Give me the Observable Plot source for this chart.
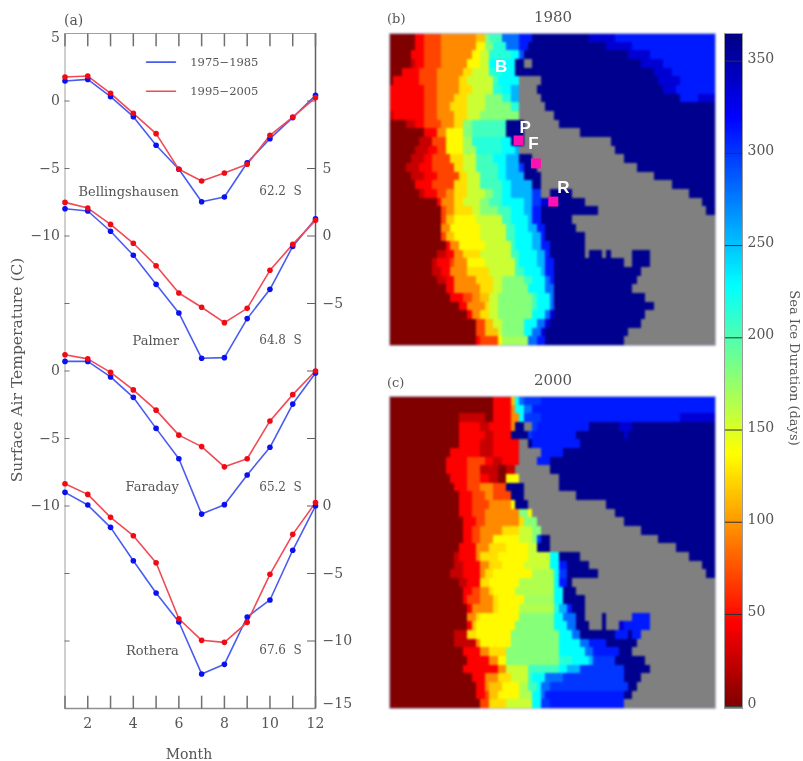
<!DOCTYPE html>
<html><head><meta charset="utf-8">
<script src="https://cdn.jsdelivr.net/npm/d3@7"></script>
<script src="https://cdn.jsdelivr.net/npm/@observablehq/plot@0.6"></script>
<style>
html,body{margin:0;background:#fff}
#c{position:relative;width:803px;height:761px;overflow:hidden;filter:blur(0.5px)}
#c svg{position:absolute;background:transparent;overflow:visible}
#c svg.map{filter:blur(0.8px)}
</style></head><body><div id="c"></div>
<script>
const months=[1,2,3,4,5,6,7,8,9,10,11,12];
const bellingshausen75=[1.48,1.6,0.32,-1.16,-3.28,-5.06,-7.46,-7.11,-4.57,-2.79,-1.23,0.42];
const bellingshausen95=[1.78,1.85,0.57,-0.91,-2.42,-5.06,-5.93,-5.33,-4.69,-2.54,-1.19,0.25];
const palmer75=[2.02,1.85,0.35,-1.43,-3.58,-5.7,-9.06,-9.01,-6.12,-3.95,-0.77,1.28];
const palmer95=[2.49,2.07,0.86,-0.54,-2.2,-4.22,-5.28,-6.42,-5.36,-2.54,-0.62,1.16];
const faraday75=[0.71,0.71,-0.44,-1.95,-4.25,-6.5,-10.6,-9.9,-7.7,-5.65,-2.45,-0.15];
const faraday95=[1.2,0.9,-0.1,-1.4,-2.9,-4.75,-5.6,-7.1,-6.5,-3.7,-1.75,0];
const rothera75=[1.01,0.07,-1.58,-4.05,-6.44,-8.59,-12.44,-11.73,-8.22,-6.96,-3.28,0];
const rothera95=[1.65,0.86,-0.84,-2.2,-4.2,-8.35,-9.95,-10.1,-8.62,-5.06,-2.1,0.25];
const offsets={B:0,P:-10,F:-20,R:-30};
const stationLabels=[["Bellingshausen","62.2  S",-6.7],["Palmer","64.8  S",-17.74],["Faraday","65.2  S",-28.6],["Rothera","67.6  S",-40.7]];
const leftTicks=[[0,"0"],[-5,"−5"],[-10,"−10"],[-20,"0"],[-25,"−5"],[-30,"−10"]];
const rightTicks=[[-5,"5"],[-10,"0"],[-15,"−5"],[-30,"0"],[-35,"−5"],[-40,"−10"]];
const allTicks=[0,-5,-10,-15,-20,-25,-30,-35,-40];
const colorTicks=[0,50,100,150,200,250,300,350];

// each row: value, end column, value, end column ... (value -1 = land)
const map1980=[
[0,6,45,8,70,12,95,20,115,22,180,23,205,26,280,30,310,33,360,46,335,52,310,75],
[0,6,45,8,70,12,95,20,135,22,180,24,215,27,280,30,310,32,360,50,335,56,310,75],
[0,5,45,8,70,12,95,19,135,21,155,23,215,28,228,30,290,31,360,55,335,60,310,75],
[0,5,25,6,45,8,70,12,95,18,135,21,155,23,228,29,360,31,-1,33,360,58,335,63,310,75],
[0,3,45,7,70,11,95,17,125,19,155,23,215,26,228,29,360,31,360,61,335,65,310,75],
[0,1,45,7,70,11,95,16,125,18,155,24,205,25,228,30,-1,35,360,62,335,67,310,75],
[45,8,70,11,95,16,125,19,155,24,215,26,228,28,255,30,-1,34,360,63,335,66,310,75],
[45,8,70,11,95,15,125,18,155,22,180,26,215,28,255,30,-1,35,360,67,310,71,335,75],
[45,8,70,11,95,14,125,18,155,22,180,28,215,30,-1,36,360,75],
[25,1,45,8,70,11,95,15,125,18,155,21,180,30,-1,38,360,75],
[0,4,25,6,45,8,70,12,95,15,125,17,180,19,205,27,360,31,-1,39,360,75],
[0,8,45,11,95,13,135,17,180,19,205,27,360,31,-1,44,360,75],
[0,7,25,10,70,13,135,17,170,19,215,26,228,28,360,31,-1,51,360,75],
[0,6,25,9,45,11,70,13,135,17,170,20,215,26,228,29,255,30,-1,52,360,75],
[0,5,25,8,45,10,70,14,125,17,155,20,205,24,228,27,255,30,360,33,-1,54,360,75],
[0,4,25,7,45,10,70,15,125,17,155,20,205,25,228,27,255,30,300,31,360,34,-1,57,360,75],
[0,5,25,8,45,11,70,16,125,18,155,21,205,25,228,27,255,31,360,35,-1,61,360,75],
[0,6,45,10,70,15,125,18,155,21,205,26,228,28,255,33,360,35,-1,65,360,75],
[0,7,25,8,45,11,70,13,95,15,125,18,155,22,180,24,205,26,228,28,255,33,300,35,-1,37,360,42,-1,69,360,75],
[0,11,45,12,95,15,125,17,155,21,180,23,205,26,228,31,255,33,300,35,335,37,360,45,-1,72,360,75],
[0,12,70,13,95,15,125,19,155,21,180,25,205,28,228,31,255,33,310,35,360,48,-1,73,360,75],
[0,12,70,13,115,15,135,20,155,26,205,28,228,32,255,33,310,35,360,42,-1,75],
[0,12,95,14,135,21,155,27,205,29,228,32,255,34,310,36,360,43,-1,75],
[0,12,70,13,115,15,135,21,155,27,205,29,228,33,255,35,310,36,360,45,-1,75],
[0,13,45,14,95,16,135,22,155,28,205,29,228,33,255,35,310,37,360,45,-1,75],
[0,11,25,13,45,15,95,17,125,21,155,28,205,30,228,34,255,36,310,37,360,45,-1,46,360,49,-1,50,360,51,-1,56,360,60,-1,75],
[0,10,25,11,45,14,70,15,95,18,135,22,155,29,205,30,228,34,255,36,310,38,360,54,-1,56,360,60,-1,75],
[0,10,25,12,45,14,95,18,125,23,155,29,205,31,228,35,255,36,310,38,360,58,-1,75],
[0,11,25,13,45,15,95,20,125,24,155,26,180,31,205,33,228,36,280,37,310,38,360,57,-1,75],
[0,13,45,15,95,21,125,24,155,26,180,32,228,36,280,38,360,56,-1,75],
[0,14,45,17,70,19,95,21,115,23,155,25,180,33,205,34,228,37,280,38,360,59,-1,75],
[0,16,45,18,95,22,125,23,155,25,180,33,205,34,228,37,280,38,360,61,-1,75],
[0,18,45,19,95,21,125,23,155,25,180,33,228,36,280,37,335,38,360,59,-1,75],
[0,20,70,22,115,24,155,26,180,31,228,34,280,36,335,37,360,58,-1,75],
[0,20,70,22,115,25,155,26,180,31,228,33,280,35,335,36,360,55,-1,75],
[0,20,45,21,70,25,135,26,170,32,280,34,310,36,360,54,-1,75]
];
const map2000=[
[0,24,45,28,115,29,228,30,280,31,300,35,310,75],
[0,24,45,28,95,29,228,31,280,33,310,75],
[0,16,25,22,0,24,45,28,95,30,228,31,300,35,310,67,335,75],
[0,16,45,21,25,23,45,28,95,29,360,31,-1,33,300,34,310,46,360,53,335,56,360,75],
[0,16,45,22,25,24,45,28,360,32,300,33,310,43,360,54,335,55,360,75],
[0,16,45,21,25,24,45,30,-1,32,360,33,310,44,360,75],
[0,14,45,21,25,24,45,30,-1,35,310,40,360,75],
[0,13,45,18,70,22,45,24,25,26,45,30,-1,34,310,37,360,75],
[0,13,45,18,70,21,25,25,0,27,25,29,-1,37,360,75],
[0,14,45,18,70,21,45,23,25,25,0,27,135,30,-1,39,360,75],
[0,15,45,18,70,21,95,24,70,27,360,31,-1,39,360,75],
[0,16,45,19,70,22,95,24,70,28,360,31,-1,43,360,75],
[0,16,45,19,70,23,95,28,135,29,360,32,-1,50,360,75],
[0,16,45,19,70,22,95,30,180,32,135,33,-1,52,360,75],
[0,17,45,20,70,22,95,30,125,31,180,34,-1,54,360,75],
[0,17,45,19,70,21,95,26,125,30,155,33,180,35,-1,58,360,75],
[0,17,45,19,70,21,95,24,135,30,155,33,180,34,300,35,360,37,-1,62,360,75],
[0,16,45,20,95,23,125,27,135,32,155,34,360,37,-1,66,360,75],
[0,15,25,16,45,20,95,21,125,25,135,32,155,37,228,39,360,44,-1,69,360,75],
[0,15,25,17,45,21,95,23,125,26,135,31,155,37,228,39,310,41,360,46,-1,72,360,75],
[0,14,25,17,45,21,95,22,125,24,135,33,165,38,228,39,300,41,360,48,-1,73,360,75],
[0,16,25,18,45,21,125,23,135,30,165,38,228,39,310,41,360,42,-1,75],
[0,17,45,19,70,21,95,23,125,24,135,29,165,38,228,40,360,43,-1,75],
[0,17,45,18,70,21,95,24,125,25,135,31,170,38,228,40,360,45,-1,75],
[0,18,45,19,95,24,125,25,135,30,165,38,215,39,255,41,310,42,360,45,-1,75],
[0,18,95,20,125,21,135,30,180,38,228,40,280,43,360,45,-1,49,360,50,-1,56,310,60,-1,75],
[0,18,45,19,115,20,135,29,180,38,228,41,280,43,360,46,-1,49,360,50,-1,53,335,54,310,60,-1,75],
[0,15,25,18,125,20,135,28,180,39,228,42,280,44,360,52,310,55,360,56,310,58,-1,75],
[0,15,25,20,95,21,135,28,180,39,228,44,280,46,310,50,360,57,-1,75],
[0,17,45,21,95,23,125,27,180,39,228,45,280,47,310,53,360,56,-1,75],
[0,18,45,23,95,25,135,27,180,39,215,42,228,46,255,47,300,52,360,59,-1,75],
[0,17,45,25,95,27,155,32,205,39,228,41,255,44,300,54,360,60,-1,75],
[0,19,45,22,95,25,125,28,155,32,205,33,228,36,280,40,300,54,360,58,-1,75],
[0,20,45,22,95,23,115,26,135,30,165,32,205,34,228,35,280,37,300,55,360,57,-1,75],
[0,20,45,22,70,23,115,25,135,30,165,33,228,35,280,36,310,54,360,56,-1,75],
[0,21,70,23,125,27,155,33,228,35,300,37,310,54,-1,75]
];
const siteMarkers=[[29.8,24.8],[33.8,30.1],[37.8,38.9]];
const siteLetters=[["B",25.7,7.6],["P",31.2,21.6],["F",33.1,25.5],["R",40,35.5]];

const INK="#555555", FONT="'DejaVu Serif',serif";
const colorScale={type:"linear",interpolate:"rgb",
  domain:[-1,-0.01,0,45.6,136.9,228.1,319.4,365],
  range:["#808080","#808080","#800000","#ff0000","#ffff00","#00ffff","#0000ff","#000080"]};
const host=document.getElementById("c");
function put(p,l,t,cls){p.style.left=l+"px";p.style.top=t+"px";if(cls)p.classList.add(cls);host.appendChild(p);}

// panel (a)
const series=[[bellingshausen75,"B",0],[bellingshausen95,"B",1],[palmer75,"P",0],[palmer95,"P",1],
  [faraday75,"F",0],[faraday95,"F",1],[rothera75,"R",0],[rothera95,"R",1]]
  .flatMap(([vals,k,p])=>vals.map((v,i)=>({m:months[i],y:v+offsets[k],k:k+p,p})));
const lineCol=["#4a5cf0","#f04a55"], dotCol=["#0a10f0","#f00a14"];
const leftMap=new Map(leftTicks), rightMap=new Map(rightTicks);
put(Plot.plot({width:360,height:761,marginLeft:64.5,marginRight:45,marginTop:33,marginBottom:53,
  style:{fontFamily:FONT,color:INK},
  x:{domain:[1,12],axis:null},y:{domain:[-45,5],axis:null},
  marks:[
    Plot.frame({stroke:"#a0a0a0"}),
    Plot.ruleX([12],{stroke:"#606060",strokeWidth:1.5}),
    Plot.ruleY([-45],{stroke:"#909090",strokeWidth:1.5}),
    Plot.link(months,{x1:d=>d,x2:d=>d,y1:()=>-45,y2:()=>-44.05,stroke:"#707070",strokeWidth:1.5}),
    Plot.link(months,{x1:d=>d,x2:d=>d,y1:()=>5,y2:()=>4.05,stroke:"#707070",strokeWidth:1.5}),
    Plot.ruleY(allTicks,{y:d=>d,x1:1,x2:1.22,stroke:"#707070"}),
    Plot.ruleY(allTicks,{y:d=>d,x1:12,x2:11.65,stroke:"#606060"}),
    Plot.axisY({anchor:"left",ticks:leftTicks.map(d=>d[0]),tickFormat:d=>leftMap.get(d),tickSize:0,tickPadding:5,fontSize:14,label:null,fill:INK}),
    Plot.axisY({anchor:"right",ticks:rightTicks.map(d=>d[0]),tickFormat:d=>rightMap.get(d),tickSize:0,tickPadding:7,fontSize:14,label:null,fill:INK}),
    Plot.text(["5"],{x:1,y:5,dx:-5,dy:4,textAnchor:"end",fontSize:14,fill:INK}),
    Plot.text(["−15"],{x:12,y:-45,dx:7,dy:-5,textAnchor:"start",fontSize:14,fill:INK}),
    Plot.axisX({anchor:"bottom",ticks:[2,4,6,8,10,12],tickFormat:d=>d,tickSize:0,tickPadding:10,fontSize:14,label:null,fill:INK}),
    Plot.line(series,{x:"m",y:"y",z:"k",stroke:d=>lineCol[d.p],strokeWidth:1.6,curve:"linear"}),
    Plot.dot(series,{x:"m",y:"y",r:2.8,fill:d=>dotCol[d.p],stroke:"none"}),
    Plot.line([[4.58,2.88],[5.85,2.88]],{stroke:lineCol[0],strokeWidth:1.6}),
    Plot.line([[4.58,0.72],[5.85,0.72]],{stroke:lineCol[1],strokeWidth:1.6}),
    Plot.text(["1975−1985","1995−2005"],{x:6.5,y:(d,i)=>[2.88,0.72][i],text:d=>d,textAnchor:"start",fontSize:11.5,fill:INK}),
    Plot.text(stationLabels,{x:6,y:d=>d[2],text:d=>d[0],textAnchor:"end",fontSize:13,fill:INK}),
    Plot.text(stationLabels,{x:11.4,y:d=>d[2],text:d=>d[1],textAnchor:"end",fontSize:12,fill:INK})
  ]}),0,0);

function staticText(str,x,y,size,rot,anchor){
  const s=d3.create("svg").attr("width",1).attr("height",1).node();
  const t=d3.select(s).append("text").attr("x",0).attr("y",0).attr("fill",INK)
    .attr("font-family",FONT).attr("font-size",size).attr("text-anchor",anchor||"middle").attr("dominant-baseline","middle")
    .text(str);
  if(rot) t.attr("transform",`rotate(${rot})`);
  put(s,x,y);
}
staticText("(a)",64,21,14,0,"start");
staticText("Surface Air Temperature (C)",18,370,15.5,-90);
staticText("Month",189,755,14);
staticText("(b)",387,19,13,0,"start");
staticText("1980",553,18,15);
staticText("(c)",387,383,13,0,"start");
staticText("2000",553,381,15);
staticText("Sea Ice Duration (days)",793,368,13,90);

// maps
function cells(rows){
  return rows.flatMap((r,i)=>{const o=[];let p=0;
    for(let j=0;j<r.length;j+=2){o.push({x1:p,x2:r[j+1],y1:i*2,y2:i*2+2,v:r[j]});p=r[j+1];}
    return o;});
}
function mapPlot(rows){
  return Plot.plot({width:326,height:312,margin:0,
    x:{domain:[0,75],axis:null},y:{domain:[72,0],axis:null},color:colorScale,
    marks:[
      Plot.rect(cells(rows),{x1:"x1",x2:"x2",y1:"y1",y2:"y2",fill:"v",shapeRendering:"crispEdges"}),
      Plot.frame({stroke:"#b0b4d0"})
    ]});
}
put(mapPlot(map1980),389.3,33,"map");
put(Plot.plot({width:326,height:312,margin:0,
  x:{domain:[0,75],axis:null},y:{domain:[72,0],axis:null},
  marks:[
    Plot.rect(siteMarkers,{x1:d=>d[0]-1.15,x2:d=>d[0]+1.15,y1:d=>d[1]-1.15,y2:d=>d[1]+1.15,fill:"#ff10b0"}),
    Plot.text(siteLetters,{x:d=>d[1],y:d=>d[2],text:d=>d[0],fill:"white",fontSize:17,fontWeight:"bold",fontFamily:"'Liberation Sans',sans-serif"})
  ]}),389.3,33);
put(mapPlot(map2000),389.3,396,"map");

// colour bar
const barSteps=d3.range(0,365);
put(Plot.plot({width:60,height:675,marginLeft:0,marginRight:42,marginTop:0,marginBottom:0,
  style:{fontFamily:FONT,color:INK},
  x:{domain:[0,1],axis:null},y:{domain:[-1,365],axis:null},color:colorScale,
  marks:[
    Plot.rect(barSteps,{x1:0,x2:1,y1:d=>d,y2:d=>d+1,fill:d=>d+0.5,shapeRendering:"crispEdges"}),
    Plot.rect([-1],{x1:0,x2:1,y1:-1,y2:0,fill:d=>d}),
    Plot.ruleY(colorTicks,{y:d=>d,stroke:"#303030",strokeWidth:1}),
    Plot.frame({stroke:"#9a9a9a"}),
    Plot.text(colorTicks,{x:1,y:d=>d,dx:5,dy:-3,text:d=>String(d),textAnchor:"start",fontSize:14,fill:INK})
  ]}),724,33);
</script></body></html>
